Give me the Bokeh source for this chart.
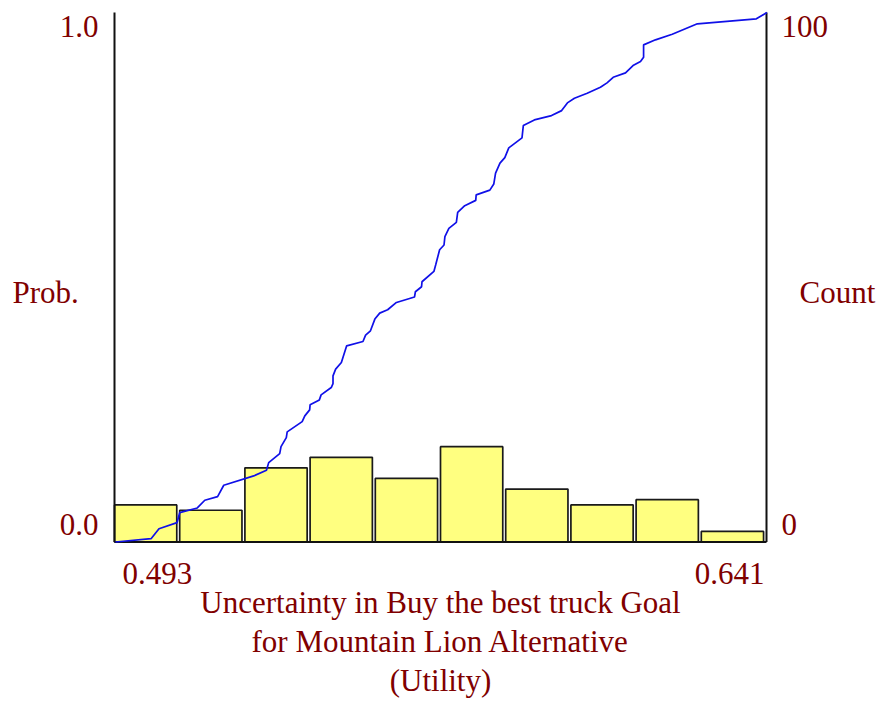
import numpy as np
from bokeh.plotting import figure
from bokeh.models import Range1d, Label
from bokeh.embed import file_html
from bokeh.resources import INLINE

# ---- data ----
x_min, x_max = 0.493, 0.641
x_tick_labels = ["0.493", "0.641"]
prob_tick_labels = ["0.0", "1.0"]
count_tick_labels = ["0", "100"]
count_max = 100
counts = [7, 6, 14, 16, 12, 18, 10, 7, 8, 2]

cdf_x = [0.4932, 0.5013, 0.5031, 0.5072, 0.5078, 0.5118, 0.5135, 0.5164, 0.5178, 0.5246,
         0.5275, 0.5280, 0.5305, 0.5308, 0.5320, 0.5322, 0.5356, 0.5362, 0.5373, 0.5374,
         0.5395, 0.5399, 0.5422, 0.5426, 0.5426, 0.5432, 0.5445, 0.5457, 0.5494, 0.5500,
         0.5511, 0.5521, 0.5532, 0.5550, 0.5570, 0.5611, 0.5613, 0.5627, 0.5628, 0.5655,
         0.5659, 0.5668, 0.5678, 0.5680, 0.5689, 0.5706, 0.5709, 0.5725, 0.5750, 0.5751,
         0.5782, 0.5791, 0.5795, 0.5805, 0.5816, 0.5825, 0.5855, 0.5858, 0.5883, 0.5922,
         0.5945, 0.5958, 0.5974, 0.6003, 0.6033, 0.6048, 0.6062, 0.6090, 0.6107, 0.6124,
         0.6131, 0.6131, 0.6158, 0.6196, 0.6253, 0.6387, 0.6411]
cdf_p = [0.0000, 0.0062, 0.0251, 0.0365, 0.0554, 0.0643, 0.0788, 0.0856, 0.1072, 0.1248,
         0.1355, 0.1499, 0.1669, 0.1802, 0.1972, 0.2079, 0.2274, 0.2382, 0.2495, 0.2590,
         0.2684, 0.2779, 0.2917, 0.2992, 0.3138, 0.3265, 0.3389, 0.3705, 0.3786, 0.3907,
         0.3989, 0.4210, 0.4323, 0.4386, 0.4524, 0.4626, 0.4726, 0.4820, 0.4915, 0.5110,
         0.5231, 0.5520, 0.5609, 0.5766, 0.5923, 0.6036, 0.6225, 0.6352, 0.6452, 0.6556,
         0.6645, 0.6762, 0.6966, 0.7155, 0.7259, 0.7442, 0.7631, 0.7864, 0.7972, 0.8053,
         0.8147, 0.8293, 0.8380, 0.8475, 0.8588, 0.8671, 0.8777, 0.8860, 0.8998, 0.9074,
         0.9155, 0.9389, 0.9484, 0.9590, 0.9786, 0.9881, 1.0000]

title_lines = ["Uncertainty in Buy the best truck Goal",
               "for Mountain Lion Alternative",
               "(Utility)"]
left_axis_label = "Prob."
right_axis_label = "Count"

# ---- layout (pixels of the plotting box inside the canvas) ----
W, H = 876, 700
box_left, box_right = 114, 766
box_top, box_bottom = 12, 541.5

sx = (box_right - box_left) / (x_max - x_min)
sy = (box_bottom - box_top) / 1.0
x0 = x_min - box_left / sx
x1 = x0 + W / sx
y1 = 1.0 + box_top / sy
y0 = y1 - H / sy

p = figure(width=W, height=H, output_backend="svg", toolbar_location=None,
           x_range=Range1d(x0, x1), y_range=Range1d(y0, y1),
           x_axis_location=None, y_axis_location=None, title=None)
p.extra_y_ranges = {"count": Range1d(y0 * count_max, y1 * count_max)}
p.min_border = 0
p.min_border_left = 0
p.min_border_right = 0
p.min_border_top = 0
p.min_border_bottom = 0
p.outline_line_color = None
p.grid.visible = False
p.background_fill_color = "white"
p.border_fill_color = "white"

# histogram bars
n = len(counts)
edges = np.linspace(x_min, x_max, n + 1)
bw = (x_max - x_min) / n
p.quad(left=edges[:-1], right=edges[1:] - bw * 0.045, bottom=0, top=counts,
       y_range_name="count", fill_color="#FFFF80", line_color="#1a1a1a", line_width=1.7)

# axis lines
p.segment(x0=[x_min, x_max, x_min], y0=[0, 0, 0], x1=[x_min, x_max, x_max], y1=[1, 1, 0],
          line_color="#111111", line_width=2)

# cumulative curve
p.line(cdf_x, cdf_p, line_color="#1010E8", line_width=1.7)

FONT = "Liberation Serif"
FS = "31px"
COL = "#800000"
dy = 13 / sy  # baseline correction

def lab(text, x, y, align="left", xo=0):
    p.add_layout(Label(x=x, y=y + dy, text=text, x_offset=xo, text_align=align,
                       text_baseline="alphabetic", text_font=FONT, text_font_size=FS,
                       text_color=COL))

# left prob ticks
lab(prob_tick_labels[1], x_min, 0.949, "right", -16)
lab(prob_tick_labels[0], x_min, 0.0076, "right", -16)
# right count ticks
lab(count_tick_labels[1], x_max, 0.949, "left", 15)
lab(count_tick_labels[0], x_max, 0.0076, "left", 15)
# x ticks
lab(x_tick_labels[0], x_min, -0.085 + 1.0 / sy, "left", 8)
lab(x_tick_labels[1], x_max, -0.085 + 1.0 / sy, "right", -2)
# side labels
lab(left_axis_label, x_min, 0.448 - 1.0 / sy, "left", -102)
lab(right_axis_label, x_max, 0.448 - 1.0 / sy, "left", 33)
# title lines
xc = (x_min + x_max) / 2
for i, t in enumerate(title_lines):
    lab(t, xc, -0.138 - i * 0.0745, "center", 0)

open("out.html", "w").write(file_html(p, INLINE))
